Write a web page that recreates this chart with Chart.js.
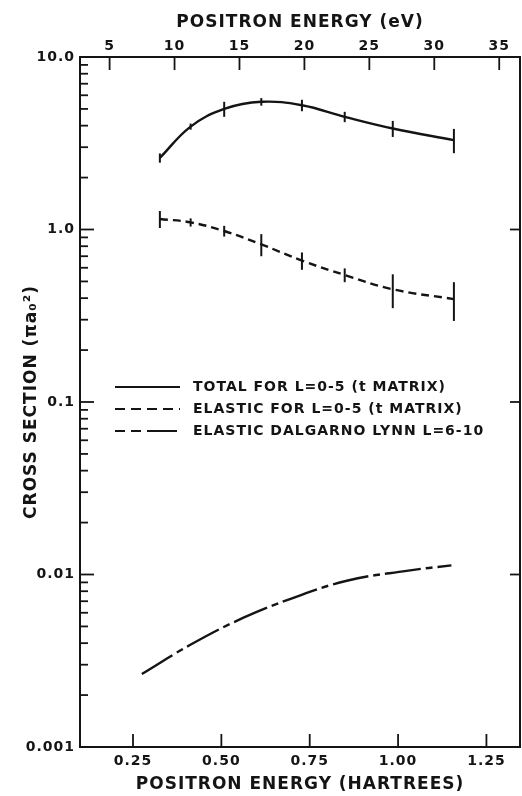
<!DOCTYPE html>
<html>
<head>
<meta charset="utf-8">
<script src="https://cdn.jsdelivr.net/npm/chart.js@4.4.0/dist/chart.umd.min.js"></script>
<style>
  html, body { margin: 0; padding: 0; background: #fff; }
  canvas { display: block; }
</style>
</head>
<body>
<canvas id="crossChart" width="522" height="796"></canvas>
<script>
// positron energies in hartrees for the t-matrix points
const energies = [0.326, 0.413, 0.508, 0.613, 0.728, 0.849, 0.985, 1.158];
const totalCross = [2.6, 3.95, 5.0, 5.5, 5.25, 4.5, 3.85, 3.3];
const totalErr = [0.16, 0.16, 0.5, 0.28, 0.4, 0.31, 0.41, 0.53];
const elasticCross = [1.15, 1.1, 0.98, 0.82, 0.66, 0.545, 0.45, 0.395];
const elasticErr = [0.13, 0.06, 0.07, 0.12, 0.076, 0.05, 0.1, 0.1];

// Dalgarno-Lynn elastic L=6-10
const dlEnergies = [0.275, 0.411, 0.561, 0.694, 0.855, 1.024, 1.151];
const dlCross = [0.00265, 0.0039, 0.0056, 0.0072, 0.0092, 0.0105, 0.0113];

const seriesLabels = [
    'TOTAL FOR L=0-5 (t MATRIX)',
    'ELASTIC FOR L=0-5 (t MATRIX)',
    'ELASTIC DALGARNO LYNN L=6-10'
];

// axis ticks
const hartreeTicks = [0.25, 0.5, 0.75, 1.0, 1.25];
const evTicks = [5, 10, 15, 20, 25, 30, 35];
const decades = [0.001, 0.01, 0.1, 1, 10];
const decadeLabels = ['0.001', '0.01', '0.1', '1.0', '10.0'];

const HARTREE_EV = 27.2114;
const X_MIN = 0.1, X_MAX = 1.345;
const INK = '#141414';
const FONT = '"DejaVu Sans", sans-serif';

const toPoints = (xs, ys) => xs.map((x, i) => ({ x: x, y: ys[i] }));

// inward ticks and frame, like the original hand drawn axes
const frameTicks = {
    id: 'frameTicks',
    beforeDraw(chart) {
        chart.ctx.letterSpacing = '1px';
    },
    afterDraw(chart) {
        const { ctx, chartArea: a, scales } = chart;
        const seg = (x1, y1, x2, y2) => {
            ctx.beginPath(); ctx.moveTo(x1, y1); ctx.lineTo(x2, y2); ctx.stroke();
        };
        ctx.save();
        ctx.strokeStyle = INK;
        ctx.lineWidth = 2;
        ctx.strokeRect(a.left, a.top, a.right - a.left, a.bottom - a.top);
        ctx.lineWidth = 1.8;
        scales.x.ticks.forEach(t => {
            const px = scales.x.getPixelForValue(t.value);
            seg(px, a.bottom, px, a.bottom - 13);
        });
        scales.x2.ticks.forEach(t => {
            const px = scales.x2.getPixelForValue(t.value);
            seg(px, a.top, px, a.top + 13);
        });
        scales.y.ticks.forEach(t => {
            const py = scales.y.getPixelForValue(t.value);
            const major = decades.some(d => Math.abs(d - t.value) / d < 1e-6);
            seg(a.left, py, a.left + (major ? 14 : 8), py);
            if (major && t.value > 0.001 && t.value < 10) seg(a.right, py, a.right - 10, py);
        });
        ctx.restore();
    }
};

// error bars and the legend inside the plot
const errorsAndKey = {
    id: 'errorsAndKey',
    afterDatasetsDraw(chart) {
        const { ctx, scales } = chart;
        ctx.save();
        ctx.strokeStyle = INK;
        ctx.lineWidth = 2;
        chart.data.datasets.forEach(ds => {
            if (!ds.errors) return;
            ds.data.forEach((p, i) => {
                const px = scales.x.getPixelForValue(p.x);
                const lo = scales.y.getPixelForValue(p.y - ds.errors[i]);
                const hi = scales.y.getPixelForValue(p.y + ds.errors[i]);
                ctx.beginPath(); ctx.moveTo(px, lo); ctx.lineTo(px, hi); ctx.stroke();
            });
        });
        // key
        ctx.font = 'bold 14px ' + FONT;
        ctx.letterSpacing = '1px';
        ctx.fillStyle = INK;
        ctx.textBaseline = 'middle';
        ctx.lineWidth = 2.2;
        chart.data.datasets.forEach((ds, i) => {
            const y = 387 + i * 22;
            ctx.setLineDash(ds.keyDash || []);
            ctx.beginPath(); ctx.moveTo(115, y); ctx.lineTo(180, y); ctx.stroke();
            ctx.setLineDash([]);
            ctx.fillText(ds.label, 193, y);
        });
        ctx.restore();
    }
};

const tickFont = { family: FONT, size: 14, weight: 'bold' };
const titleFont = { family: FONT, size: 17, weight: 'bold' };

const ctx = document.getElementById('crossChart').getContext('2d');
const crossChart = new Chart(ctx, {
    type: 'line',
    data: {
        datasets: [{
            label: seriesLabels[0],
            data: toPoints(energies, totalCross),
            errors: totalErr,
            borderColor: INK,
            borderWidth: 2.4,
            tension: 0.4
        }, {
            label: seriesLabels[1],
            data: toPoints(energies, elasticCross),
            errors: elasticErr,
            borderColor: INK,
            borderWidth: 2.4,
            borderDash: [8, 5],
            keyDash: [10, 6],
            tension: 0.4
        }, {
            label: seriesLabels[2],
            data: toPoints(dlEnergies, dlCross),
            borderColor: INK,
            borderWidth: 2.4,
            borderDash: [36, 5, 7, 5],
            keyDash: [10, 6, 10, 6, 30],
            tension: 0.4
        }]
    },
    options: {
        responsive: false,
        animation: false,
        layout: { padding: { right: 2 } },
        elements: { point: { radius: 0 } },
        plugins: { legend: { display: false }, tooltip: { enabled: false } },
        scales: {
            x: {
                type: 'linear',
                position: 'bottom',
                min: X_MIN,
                max: X_MAX,
                afterBuildTicks: s => { s.ticks = hartreeTicks.map(v => ({ value: v })); },
                afterFit: s => { s.height = 49; },
                grid: { display: false, drawTicks: false },
                border: { display: false },
                ticks: {
                    color: INK, padding: 6, autoSkip: false, maxRotation: 0,
                    font: tickFont,
                    callback: v => v.toFixed(2)
                },
                title: {
                    display: true, text: 'POSITRON ENERGY (HARTREES)', color: INK,
                    font: titleFont, padding: { bottom: 1 }
                }
            },
            x2: {
                type: 'linear',
                position: 'top',
                min: X_MIN * HARTREE_EV,
                max: X_MAX * HARTREE_EV,
                afterBuildTicks: s => { s.ticks = evTicks.map(v => ({ value: v })); },
                afterFit: s => { s.height = 57; },
                grid: { display: false, drawTicks: false },
                border: { display: false },
                ticks: {
                    color: INK, padding: 2, autoSkip: false, maxRotation: 0,
                    font: tickFont
                },
                title: {
                    display: true, text: 'POSITRON ENERGY (eV)', color: INK,
                    font: titleFont, padding: { top: 12 }
                }
            },
            y: {
                type: 'logarithmic',
                min: 0.001,
                max: 10,
                afterBuildTicks: s => {
                    const t = [];
                    decades.forEach(d => {
                        t.push({ value: d });
                        if (d < 10) for (let m = 2; m <= 9; m++) t.push({ value: d * m });
                    });
                    s.ticks = t;
                },
                afterFit: s => { s.width = 80; },
                grid: { display: false, drawTicks: false },
                border: { display: false },
                ticks: {
                    color: INK, padding: 5, autoSkip: false,
                    font: tickFont,
                    callback: v => {
                        const i = decades.findIndex(d => Math.abs(d - v) / d < 1e-6);
                        return i >= 0 ? decadeLabels[i] : '';
                    }
                },
                title: {
                    display: true, text: 'CROSS SECTION (πa₀²)', color: INK,
                    font: titleFont, padding: { top: 21 }
                }
            }
        }
    },
    plugins: [frameTicks, errorsAndKey]
});
</script>
</body>
</html>
